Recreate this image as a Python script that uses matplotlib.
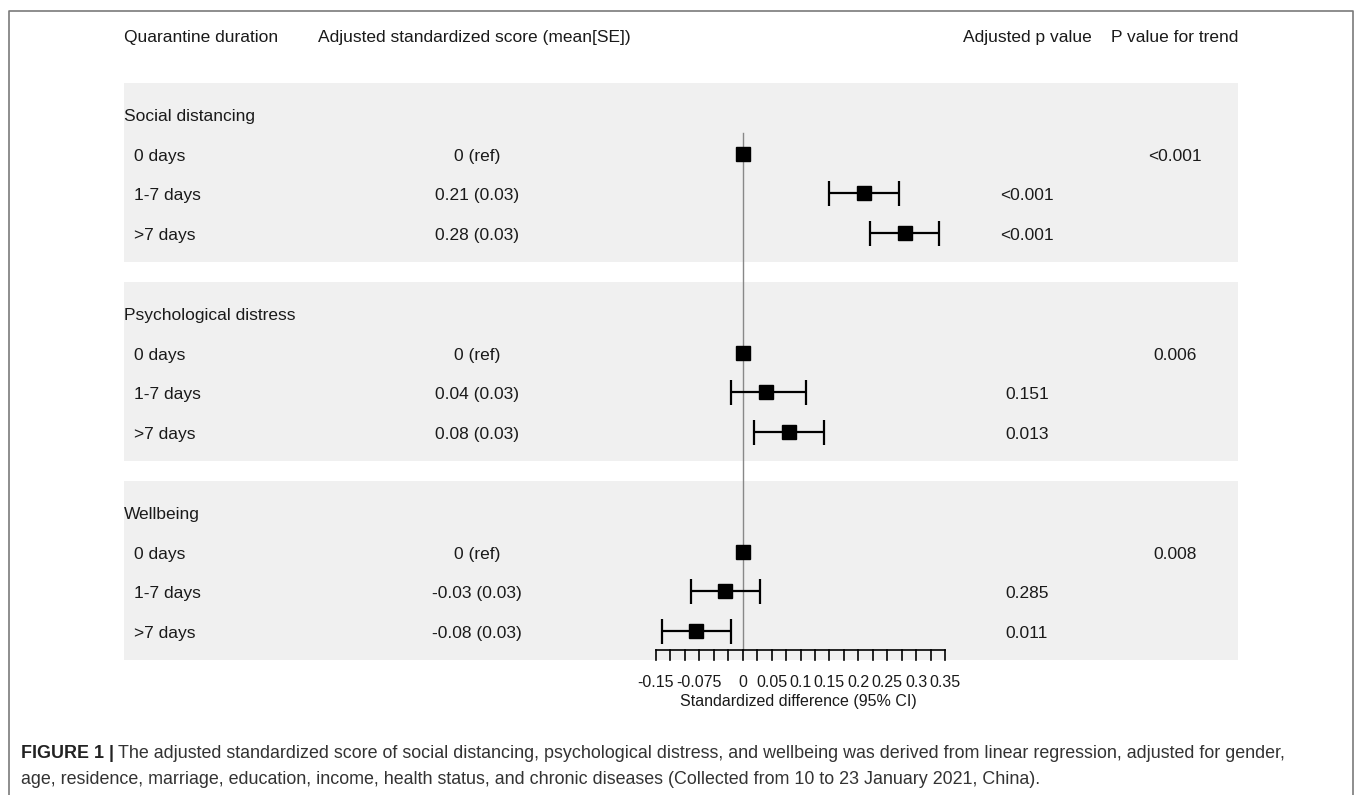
import matplotlib.pyplot as plt
import numpy as np

plt.rcParams["font.family"] = ["Liberation Sans", "DejaVu Sans"]

# data
outcomes = ["Social distancing", "Psychological distress", "Wellbeing"]
durations = ["0 days", "1-7 days", ">7 days"]
means = [[0.0, 0.21, 0.28], [0.0, 0.04, 0.08], [0.0, -0.03, -0.08]]
ci_low = [[None, 0.15, 0.22], [None, -0.02, 0.02], [None, -0.09, -0.14]]
ci_high = [[None, 0.27, 0.34], [None, 0.11, 0.14], [None, 0.03, -0.02]]
score_text = [["0 (ref)", "0.21 (0.03)", "0.28 (0.03)"],
              ["0 (ref)", "0.04 (0.03)", "0.08 (0.03)"],
              ["0 (ref)", "-0.03 (0.03)", "-0.08 (0.03)"]]
p_text = [["", "<0.001", "<0.001"], ["", "0.151", "0.013"], ["", "0.285", "0.011"]]
trend_text = ["<0.001", "0.006", "0.008"]
tick_values = [-0.15, -0.075, 0, 0.05, 0.1, 0.15, 0.2, 0.25, 0.3, 0.35]
tick_labels = ["-0.15", "-0.075", "0", "0.05", "0.1", "0.15", "0.2", "0.25", "0.3", "0.35"]

W, H = 1355, 795
ZERO_PX, UNIT_PX = 742.7, 578.0
TXT = "#1a1a1a"
FS = 12.5
DY = 1.5  # small downward nudge for centred text

fig = plt.figure(figsize=(W / 100, H / 100), dpi=100)
bg = fig.add_axes([0, 0, 1, 1])
bg.set_xlim(0, W)
bg.set_ylim(H, 0)
bg.axis("off")

fa = fig.add_axes([0, 0, 1, 1])
fa.set_xlim(-ZERO_PX / UNIT_PX, (W - ZERO_PX) / UNIT_PX)
fa.set_ylim(H, 0)
fa.axis("off")
fa.patch.set_alpha(0)

# outer frame (open at the bottom)
bg.plot([9, 9, 1353, 1353], [H + 5, 11, 11, H + 5], color="#7a7a7a", lw=1.2)

# column headers
hy = 36 + DY
bg.text(124, hy, "Quarantine duration", fontsize=FS, color=TXT, va="center")
bg.text(318, hy, "Adjusted standardized score (mean[SE])", fontsize=FS, color=TXT, va="center")
bg.text(1027, hy, "Adjusted p value", fontsize=FS, color=TXT, va="center", ha="center")
bg.text(1175, hy, "P value for trend", fontsize=FS, color=TXT, va="center", ha="center")

row_step = 39.7
for g, name in enumerate(outcomes):
    ty = 115 + g * 199
    bg.add_patch(plt.Rectangle((124, ty - 32), 1114, 179, color="#f0f0f0", lw=0, zorder=0))
    bg.text(124, ty + DY, name, fontsize=FS, color=TXT, va="center")
    bg.text(1175, ty + row_step + DY, trend_text[g], fontsize=FS, color=TXT,
            va="center", ha="center")
    for i, dur in enumerate(durations):
        y = ty + row_step * (i + 1)
        bg.text(134, y + DY, dur, fontsize=FS, color=TXT, va="center")
        bg.text(477, y + DY, score_text[g][i], fontsize=FS, color=TXT, va="center", ha="center")
        if p_text[g][i]:
            bg.text(1027, y + DY, p_text[g][i], fontsize=FS, color=TXT, va="center", ha="center")
        m = means[g][i]
        my = y - 1
        if ci_low[g][i] is not None:
            fa.errorbar(m, my, xerr=[[m - ci_low[g][i]], [ci_high[g][i] - m]], fmt="none",
                        ecolor="black", elinewidth=1.6, capsize=9, capthick=1.6, zorder=3)
        fa.plot(m, my, marker="s", color="black", markersize=9.5, zorder=4)

# reference line and axis
axis_y = 650
fa.plot([0, 0], [133, axis_y], color="#888888", lw=1.0, zorder=2)
fa.plot([tick_values[0], tick_values[-1]], [axis_y, axis_y], color="black", lw=1.2, zorder=3)
minor = np.linspace(tick_values[0], tick_values[-1], 21)
for t in minor:
    fa.plot([t, t], [axis_y, axis_y + 10], color="black", lw=1.2, zorder=3)
for t, lab in zip(tick_values, tick_labels):
    fa.text(t, 681 + DY, lab, fontsize=11.5, color=TXT, ha="center", va="center")
fa.text(0.0965, 700 + DY, "Standardized difference (95% CI)", fontsize=11.5, color=TXT,
        ha="center", va="center")

# caption
CFS = 12.9
cap_col = "#333333"
renderer = fig.canvas.get_renderer()
bold = bg.text(21, 752 + DY, "FIGURE 1 |", fontsize=CFS, fontweight="bold", color="#222222",
               va="center")
bb = bold.get_window_extent(renderer)
x0 = bb.x1 + 4
bg.text(x0, 752 + DY, "The adjusted standardized score of social distancing, psychological "
        "distress, and wellbeing was derived from linear regression, adjusted for gender,",
        fontsize=CFS, color=cap_col, va="center")
bg.text(21, 778 + DY, "age, residence, marriage, education, income, health status, and chronic "
        "diseases (Collected from 10 to 23 January 2021, China).", fontsize=CFS, color=cap_col,
        va="center")

fig.savefig("out.png", dpi=100)
